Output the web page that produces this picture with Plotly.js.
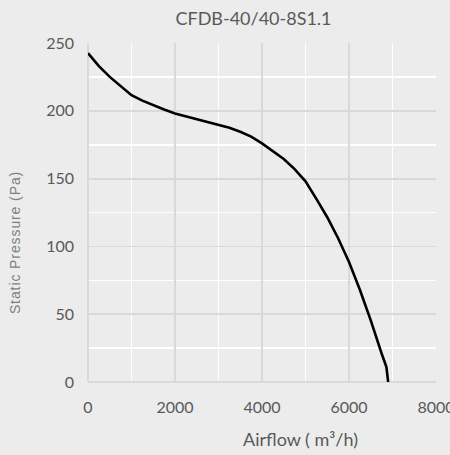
<!DOCTYPE html>
<html>
<head>
<meta charset="utf-8">
<script src="https://cdn.plot.ly/plotly-3.0.1.min.js"></script>
<style>
html, body { margin: 0; padding: 0; background: #ECECEC; }
#chart { width: 450px; height: 455px; }
</style>
</head>
<body>
<div id="chart"></div>
<script>
// Airflow (m³/h)
const airflow = [0, 250, 500, 750, 1000, 1250, 1500, 1750, 2000, 2250, 2500, 2750, 3000, 3250, 3500, 3750, 4000, 4250, 4500, 4750, 5000, 5250, 5500, 5750, 6000, 6250, 6500, 6750, 6860, 6900];
// Static pressure (Pa)
const pressure = [242.5, 233, 225, 218, 211.5, 207.5, 204, 201, 198, 196, 194, 192, 190, 187.5, 184.5, 181, 176, 170.5, 164.5, 157, 148, 135, 121.5, 106, 88.5, 68, 45.5, 21, 11, 0];

const chartTitle = "CFDB-40/40-8S1.1";
const xTitle = "Airflow ( m³/h)";
const yTitle = "Static Pressure (Pa)";
const xRange = [0, 8000];
const yRange = [0, 250];
const xStep = 2000, xMinorStep = 1000;
const yStep = 50, yMinorStep = 25;

const bg = '#ECECEC';
const major = '#D9D9D9';
const minor = '#FFFFFF';
const tickFont = {family: 'Lato, sans-serif', size: 16, color: '#595959'};

const trace = {
  x: airflow, y: pressure, type: 'scatter', mode: 'lines',
  line: {color: '#000000', width: 2.6, shape: 'linear'},
  hoverinfo: 'x+y'
};

const layout = {
  width: 450, height: 455,
  paper_bgcolor: bg, plot_bgcolor: bg,
  margin: {l: 88, r: 14.3, t: 43, b: 73.3, pad: 0},
  showlegend: false,
  title: {text: chartTitle, x: 253.5/450, xref: 'container', xanchor: 'center', y: 1 - 18.5/455, yref: 'container', yanchor: 'middle',
          font: {family: 'Lato, sans-serif', size: 18, color: '#595959'}},
  xaxis: {
    range: xRange, tickmode: 'linear', tick0: 0, dtick: xStep,
    showgrid: true, gridcolor: major, gridwidth: 1.8,
    zeroline: true, zerolinecolor: major, zerolinewidth: 1.8,
    showline: false, ticks: '', ticklabelstandoff: 14, ticklabeloverflow: 'allow',
    tickfont: tickFont, fixedrange: true,
    minor: {tick0: 0, dtick: xMinorStep, showgrid: true, gridcolor: minor, gridwidth: 1.6}
  },
  yaxis: {
    range: yRange, tickmode: 'linear', tick0: 0, dtick: yStep,
    showgrid: true, gridcolor: major, gridwidth: 1.8,
    zeroline: true, zerolinecolor: major, zerolinewidth: 1.8,
    showline: false, ticks: '', ticklabelstandoff: 13, ticklabeloverflow: 'allow',
    tickfont: tickFont, fixedrange: true,
    minor: {tick0: 0, dtick: yMinorStep, showgrid: true, gridcolor: minor, gridwidth: 1.6}
  },
  annotations: [
    {text: xTitle, xref: 'paper', yref: 'paper', x: (300 - 88) / 347.7, y: -(439 - 381.7) / 338.7,
     xanchor: 'center', yanchor: 'middle', showarrow: false,
     font: {family: 'Lato, sans-serif', size: 18, color: '#595959'}},
    {text: yTitle, xref: 'paper', yref: 'paper', x: (15 - 88) / 347.7, y: (381.7 - 242) / 338.7,
     xanchor: 'center', yanchor: 'middle', showarrow: false, textangle: -90,
     font: {family: 'Liberation Sans, Arial, sans-serif', size: 14, color: '#7F7F7F'}}
  ]
};

Plotly.newPlot('chart', [trace], layout, {displayModeBar: false, staticPlot: true}).then(function(){
  const anns = document.querySelectorAll('.annotation-text');
  anns.forEach(function(a){ if (a.textContent === yTitle) a.style.letterSpacing = '0.9px'; });
});
</script>
</body>
</html>
